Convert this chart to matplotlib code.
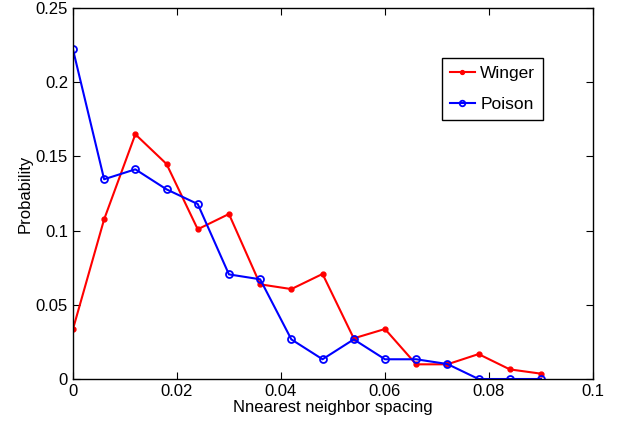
import matplotlib
matplotlib.use("Agg")
import matplotlib.pyplot as plt

plt.rcParams["font.family"] = ["Liberation Sans", "DejaVu Sans"]

spacing = [0.000, 0.006, 0.012, 0.018, 0.024, 0.030, 0.036, 0.042,
           0.048, 0.054, 0.060, 0.066, 0.072, 0.078, 0.084, 0.090]
winger = [0.0335, 0.1076, 0.1649, 0.1449, 0.1009, 0.1112, 0.0638, 0.0606,
          0.0708, 0.0274, 0.0337, 0.0099, 0.0099, 0.0168, 0.0065, 0.0036]
poison = [0.2222, 0.1346, 0.1413, 0.1278, 0.1179, 0.0705, 0.0672, 0.0267,
          0.0133, 0.0267, 0.0133, 0.0133, 0.0101, 0.0, 0.0, 0.0]
xticks = [0, 0.02, 0.04, 0.06, 0.08, 0.1]
xlabels = ["0", "0.02", "0.04", "0.06", "0.08", "0.1"]
yticks = [0, 0.05, 0.1, 0.15, 0.2, 0.25]
ylabels = ["0", "0.05", "0.1", "0.15", "0.2", "0.25"]

fig = plt.figure(figsize=(6.18, 4.26), dpi=100)
ax = fig.add_axes([0.118, 0.1103, 0.8415, 0.8709])
ax.plot(spacing, winger, "-", color="red", marker=".", markersize=7,
        lw=1.5, label="Winger")
ax.plot(spacing, poison, "-", color="blue", marker="o", markersize=5,
        markerfacecolor="none", markeredgewidth=1.3, lw=1.5, label="Poison")
ax.set_xlim(0, 0.1)
ax.set_ylim(0, 0.25)
ax.set_xticks(xticks)
ax.set_xticklabels(xlabels)
ax.set_yticks(yticks)
ax.set_yticklabels(ylabels)
ax.tick_params(direction="in", top=True, right=True, labelsize=12, length=5)
for s in ax.spines.values():
    s.set_linewidth(1.0)
ax.set_xlabel("Nnearest neighbor spacing", fontsize=12, labelpad=1)
ax.set_ylabel("Probability", fontsize=12, labelpad=2)
leg = ax.legend(loc="upper left", bbox_to_anchor=(0.7096, 0.865), fontsize=12.5,
                fancybox=False, framealpha=1, edgecolor="black", borderaxespad=0,
                handlelength=1.45, handletextpad=0.3, borderpad=0.45, labelspacing=0.9,
                markerscale=0.8)
leg.get_frame().set_linewidth(1.0)
fig.savefig("out.png", dpi=100)
